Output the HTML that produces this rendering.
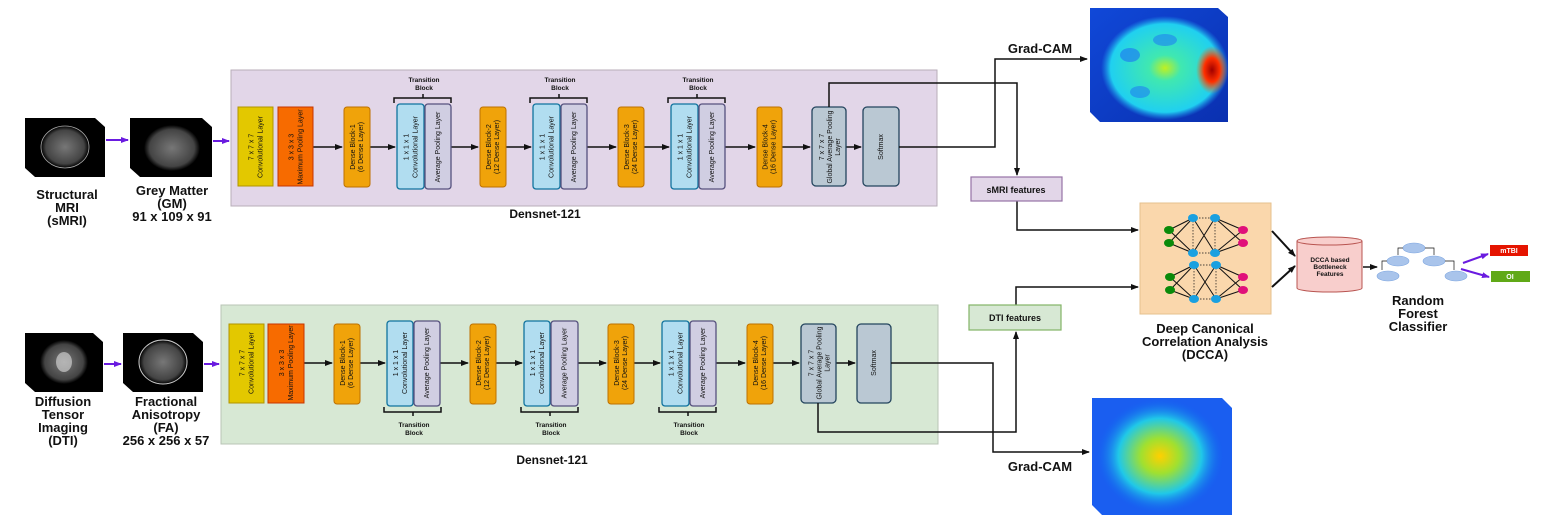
<!DOCTYPE html>
<html><head><meta charset="utf-8"><style>
html,body{margin:0;padding:0;background:#fff;}
svg{display:block;font-family:"Liberation Sans",sans-serif;}
.bt{font-size:7px;fill:#111;text-anchor:middle;}
.lb{font-size:13px;font-weight:bold;fill:#111;text-anchor:middle;}
.ln{fill:none;stroke:#111;stroke-width:1.5;}
</style></head><body>
<svg width="1542" height="520" viewBox="0 0 1542 520" xmlns="http://www.w3.org/2000/svg">
<defs>
<marker id="ar" markerWidth="8" markerHeight="8" refX="7" refY="4" orient="auto" markerUnits="userSpaceOnUse"><path d="M0,1 L8,4 L0,7 Z" fill="#111"/></marker>
<marker id="ap" markerWidth="8" markerHeight="8" refX="7" refY="4" orient="auto" markerUnits="userSpaceOnUse"><path d="M0,1 L8,4 L0,7 Z" fill="#6a1be0"/></marker>
<radialGradient id="gc1" cx="0.5" cy="0.5" r="0.5"><stop offset="0" stop-color="#c0f020"/><stop offset="0.25" stop-color="#40e8b0"/><stop offset="0.85" stop-color="#20d0f0"/><stop offset="1" stop-color="#20a0f0" stop-opacity="0"/></radialGradient>
<radialGradient id="hot"><stop offset="0" stop-color="#a00000"/><stop offset="0.5" stop-color="#ff3000"/><stop offset="1" stop-color="#ff6000" stop-opacity="0"/></radialGradient>
<radialGradient id="gc2" cx="0.5" cy="0.5" r="0.5"><stop offset="0" stop-color="#ffd000"/><stop offset="0.3" stop-color="#a0e030"/><stop offset="0.65" stop-color="#20c8e8"/><stop offset="1" stop-color="#1060f0" stop-opacity="0"/></radialGradient>
<radialGradient id="br"><stop offset="0" stop-color="#777"/><stop offset="0.8" stop-color="#444"/><stop offset="1" stop-color="#000"/></radialGradient>
<linearGradient id="bg1" x1="0" y1="0" x2="1" y2="1"><stop offset="0" stop-color="#1048d8"/><stop offset="1" stop-color="#0a30b0"/></linearGradient>
</defs>

<rect x="231" y="70" width="706" height="136" fill="#e2d6e8" stroke="#b8aeb9"/>
<rect x="221" y="305" width="717" height="139" fill="#d7e8d4" stroke="#b8c4b6"/>
<text class="lb" x="545" y="218" style="font-size:12px">Densnet-121</text>
<text class="lb" x="552" y="464" style="font-size:12px">Densnet-121</text>

<g><polygon points="25,118 95,118 105,127 105,177 35,177 25,168" fill="#000"/><ellipse cx="65" cy="147" rx="24" ry="21" fill="url(#br)" stroke="#aaa" stroke-width="0.8"/></g>
<g><polygon points="130,118 202,118 212,127 212,177 140,177 130,168" fill="#000"/><ellipse cx="172" cy="148" rx="28" ry="23" fill="url(#br)"/></g>
<line x1="106" y1="140" x2="128" y2="140" stroke="#6a1be0" stroke-width="2" marker-end="url(#ap)"/>
<line x1="213" y1="141" x2="229" y2="141" stroke="#6a1be0" stroke-width="2" marker-end="url(#ap)"/>
<text class="lb" x="67" y="199">Structural</text><text class="lb" x="67" y="212">MRI</text><text class="lb" x="67" y="225">(sMRI)</text>
<text class="lb" x="172" y="195">Grey Matter</text><text class="lb" x="172" y="208">(GM)</text><text class="lb" x="172" y="221">91 x 109 x 91</text>

<g><polygon points="25,333 93,333 103,342 103,392 35,392 25,383" fill="#000"/><ellipse cx="64" cy="362" rx="24" ry="22" fill="url(#br)"/><ellipse cx="64" cy="362" rx="8" ry="10" fill="#ddd" opacity="0.6"/></g>
<g><polygon points="123,333 193,333 203,342 203,392 133,392 123,383" fill="#000"/><ellipse cx="163" cy="362" rx="24" ry="22" fill="url(#br)" stroke="#ccc" stroke-width="1"/></g>
<line x1="104" y1="364" x2="121" y2="364" stroke="#6a1be0" stroke-width="2" marker-end="url(#ap)"/>
<line x1="204" y1="364" x2="219" y2="364" stroke="#6a1be0" stroke-width="2" marker-end="url(#ap)"/>
<text class="lb" x="63" y="406">Diffusion</text><text class="lb" x="63" y="419">Tensor</text><text class="lb" x="63" y="432">Imaging</text><text class="lb" x="63" y="445">(DTI)</text>
<text class="lb" x="166" y="406">Fractional</text><text class="lb" x="166" y="419">Anisotropy</text><text class="lb" x="166" y="432">(FA)</text><text class="lb" x="166" y="445">256 x 256 x 57</text>

<g>
<line class="ln" x1="313" y1="147" x2="342" y2="147" marker-end="url(#ar)" stroke-width="1"/>
<line class="ln" x1="370" y1="147" x2="395" y2="147" marker-end="url(#ar)" stroke-width="1"/>
<line class="ln" x1="451" y1="147" x2="478" y2="147" marker-end="url(#ar)" stroke-width="1"/>
<line class="ln" x1="506" y1="147" x2="531" y2="147" marker-end="url(#ar)" stroke-width="1"/>
<line class="ln" x1="587" y1="147" x2="616" y2="147" marker-end="url(#ar)" stroke-width="1"/>
<line class="ln" x1="644" y1="147" x2="669" y2="147" marker-end="url(#ar)" stroke-width="1"/>
<line class="ln" x1="725" y1="147" x2="755" y2="147" marker-end="url(#ar)" stroke-width="1"/>
<line class="ln" x1="782" y1="147" x2="810" y2="147" marker-end="url(#ar)" stroke-width="1"/>
<line class="ln" x1="846" y1="147" x2="861" y2="147" marker-end="url(#ar)" stroke-width="1"/>

<rect x="238" y="107" width="35" height="79" fill="#e3c800" stroke="#b09500"/>
<text class="bt" transform="translate(255.5,147) rotate(-90)"><tspan x="0" dy="-2">7 x 7 x 7</tspan><tspan x="0" dy="9">Convolutional Layer</tspan></text>
<rect x="278" y="107" width="35" height="79" fill="#f76b00" stroke="#c73500"/>
<text class="bt" transform="translate(295.5,147) rotate(-90)"><tspan x="0" dy="-2">3 x 3 x 3</tspan><tspan x="0" dy="9">Maximum Pooling Layer</tspan></text>
<rect x="344" y="107" width="26" height="80" rx="3" fill="#f0a30a" stroke="#bd7000"/>
<text class="bt" transform="translate(357,147) rotate(-90)"><tspan x="0" dy="-2">Dense Block-1</tspan><tspan x="0" dy="8">(6 Dense Layer)</tspan></text>
<rect x="397" y="104" width="27" height="85" rx="3" fill="#b1ddf0" stroke="#10739e" stroke-width="1.3"/>
<text class="bt" transform="translate(410.5,147) rotate(-90)"><tspan x="0" dy="-2">1 x 1 x 1</tspan><tspan x="0" dy="9">Convolutional Layer</tspan></text>
<rect x="425" y="104" width="26" height="85" rx="3" fill="#d0cee2" stroke="#56517e" stroke-width="1.3"/>
<text class="bt" transform="translate(438,147) rotate(-90)"><tspan x="0" dy="2">Average Pooling Layer</tspan></text>
<rect x="480" y="107" width="26" height="80" rx="3" fill="#f0a30a" stroke="#bd7000"/>
<text class="bt" transform="translate(493,147) rotate(-90)"><tspan x="0" dy="-2">Dense Block-2</tspan><tspan x="0" dy="8">(12 Dense Layer)</tspan></text>
<rect x="533" y="104" width="27" height="85" rx="3" fill="#b1ddf0" stroke="#10739e" stroke-width="1.3"/>
<text class="bt" transform="translate(546.5,147) rotate(-90)"><tspan x="0" dy="-2">1 x 1 x 1</tspan><tspan x="0" dy="9">Convolutional Layer</tspan></text>
<rect x="561" y="104" width="26" height="85" rx="3" fill="#d0cee2" stroke="#56517e" stroke-width="1.3"/>
<text class="bt" transform="translate(574,147) rotate(-90)"><tspan x="0" dy="2">Average Pooling Layer</tspan></text>
<rect x="618" y="107" width="26" height="80" rx="3" fill="#f0a30a" stroke="#bd7000"/>
<text class="bt" transform="translate(631,147) rotate(-90)"><tspan x="0" dy="-2">Dense Block-3</tspan><tspan x="0" dy="8">(24 Dense Layer)</tspan></text>
<rect x="671" y="104" width="27" height="85" rx="3" fill="#b1ddf0" stroke="#10739e" stroke-width="1.3"/>
<text class="bt" transform="translate(684.5,147) rotate(-90)"><tspan x="0" dy="-2">1 x 1 x 1</tspan><tspan x="0" dy="9">Convolutional Layer</tspan></text>
<rect x="699" y="104" width="26" height="85" rx="3" fill="#d0cee2" stroke="#56517e" stroke-width="1.3"/>
<text class="bt" transform="translate(712,147) rotate(-90)"><tspan x="0" dy="2">Average Pooling Layer</tspan></text>
<rect x="757" y="107" width="25" height="80" rx="3" fill="#f0a30a" stroke="#bd7000"/>
<text class="bt" transform="translate(769.5,147) rotate(-90)"><tspan x="0" dy="-2">Dense Block-4</tspan><tspan x="0" dy="8">(16 Dense Layer)</tspan></text>
<rect x="812" y="107" width="34" height="79" rx="4" fill="#bac8d3" stroke="#23445d" stroke-width="1.3"/>
<text class="bt" transform="translate(829,147) rotate(-90)"><tspan x="0" dy="-5">7 x 7 x 7</tspan><tspan x="0" dy="8">Global Average Pooling</tspan><tspan x="0" dy="8">Layer</tspan></text>
<rect x="863" y="107" width="36" height="79" rx="4" fill="#bac8d3" stroke="#23445d" stroke-width="1.3"/>
<text class="bt" transform="translate(881,147) rotate(-90)"><tspan x="0" dy="2">Softmax</tspan></text>
<path d="M394,103 v-5 h57 v5 M423,98 v-4" fill="none" stroke="#111" stroke-width="1.5"/>
<text class="bt" x="424" y="82" style="font-weight:bold;font-size:6.5px">Transition</text><text class="bt" x="424" y="90" style="font-weight:bold;font-size:6.5px">Block</text>
<path d="M530,103 v-5 h57 v5 M559,98 v-4" fill="none" stroke="#111" stroke-width="1.5"/>
<text class="bt" x="560" y="82" style="font-weight:bold;font-size:6.5px">Transition</text><text class="bt" x="560" y="90" style="font-weight:bold;font-size:6.5px">Block</text>
<path d="M668,103 v-5 h57 v5 M697,98 v-4" fill="none" stroke="#111" stroke-width="1.5"/>
<text class="bt" x="698" y="82" style="font-weight:bold;font-size:6.5px">Transition</text><text class="bt" x="698" y="90" style="font-weight:bold;font-size:6.5px">Block</text>
</g>

<g>
<line class="ln" x1="304" y1="363" x2="332" y2="363" marker-end="url(#ar)" stroke-width="1"/>
<line class="ln" x1="360" y1="363" x2="385" y2="363" marker-end="url(#ar)" stroke-width="1"/>
<line class="ln" x1="440" y1="363" x2="468" y2="363" marker-end="url(#ar)" stroke-width="1"/>
<line class="ln" x1="496" y1="363" x2="522" y2="363" marker-end="url(#ar)" stroke-width="1"/>
<line class="ln" x1="578" y1="363" x2="606" y2="363" marker-end="url(#ar)" stroke-width="1"/>
<line class="ln" x1="634" y1="363" x2="660" y2="363" marker-end="url(#ar)" stroke-width="1"/>
<line class="ln" x1="716" y1="363" x2="745" y2="363" marker-end="url(#ar)" stroke-width="1"/>
<line class="ln" x1="773" y1="363" x2="799" y2="363" marker-end="url(#ar)" stroke-width="1"/>
<line class="ln" x1="836" y1="363" x2="855" y2="363" marker-end="url(#ar)" stroke-width="1"/>

<rect x="229" y="324" width="35" height="79" fill="#e3c800" stroke="#b09500"/>
<text class="bt" transform="translate(246.5,363) rotate(-90)"><tspan x="0" dy="-2">7 x 7 x 7</tspan><tspan x="0" dy="9">Convolutional Layer</tspan></text>
<rect x="268" y="324" width="36" height="79" fill="#f76b00" stroke="#c73500"/>
<text class="bt" transform="translate(286,363) rotate(-90)"><tspan x="0" dy="-2">3 x 3 x 3</tspan><tspan x="0" dy="9">Maximum Pooling Layer</tspan></text>
<rect x="334" y="324" width="26" height="80" rx="3" fill="#f0a30a" stroke="#bd7000"/>
<text class="bt" transform="translate(347,363) rotate(-90)"><tspan x="0" dy="-2">Dense Block-1</tspan><tspan x="0" dy="8">(6 Dense Layer)</tspan></text>
<rect x="387" y="321" width="26" height="85" rx="3" fill="#b1ddf0" stroke="#10739e" stroke-width="1.3"/>
<text class="bt" transform="translate(400,363) rotate(-90)"><tspan x="0" dy="-2">1 x 1 x 1</tspan><tspan x="0" dy="9">Convolutional Layer</tspan></text>
<rect x="414" y="321" width="26" height="85" rx="3" fill="#d0cee2" stroke="#56517e" stroke-width="1.3"/>
<text class="bt" transform="translate(427,363) rotate(-90)"><tspan x="0" dy="2">Average Pooling Layer</tspan></text>
<rect x="470" y="324" width="26" height="80" rx="3" fill="#f0a30a" stroke="#bd7000"/>
<text class="bt" transform="translate(483,363) rotate(-90)"><tspan x="0" dy="-2">Dense Block-2</tspan><tspan x="0" dy="8">(12 Dense Layer)</tspan></text>
<rect x="524" y="321" width="26" height="85" rx="3" fill="#b1ddf0" stroke="#10739e" stroke-width="1.3"/>
<text class="bt" transform="translate(537,363) rotate(-90)"><tspan x="0" dy="-2">1 x 1 x 1</tspan><tspan x="0" dy="9">Convolutional Layer</tspan></text>
<rect x="551" y="321" width="27" height="85" rx="3" fill="#d0cee2" stroke="#56517e" stroke-width="1.3"/>
<text class="bt" transform="translate(564.5,363) rotate(-90)"><tspan x="0" dy="2">Average Pooling Layer</tspan></text>
<rect x="608" y="324" width="26" height="80" rx="3" fill="#f0a30a" stroke="#bd7000"/>
<text class="bt" transform="translate(621,363) rotate(-90)"><tspan x="0" dy="-2">Dense Block-3</tspan><tspan x="0" dy="8">(24 Dense Layer)</tspan></text>
<rect x="662" y="321" width="27" height="85" rx="3" fill="#b1ddf0" stroke="#10739e" stroke-width="1.3"/>
<text class="bt" transform="translate(675.5,363) rotate(-90)"><tspan x="0" dy="-2">1 x 1 x 1</tspan><tspan x="0" dy="9">Convolutional Layer</tspan></text>
<rect x="690" y="321" width="26" height="85" rx="3" fill="#d0cee2" stroke="#56517e" stroke-width="1.3"/>
<text class="bt" transform="translate(703,363) rotate(-90)"><tspan x="0" dy="2">Average Pooling Layer</tspan></text>
<rect x="747" y="324" width="26" height="80" rx="3" fill="#f0a30a" stroke="#bd7000"/>
<text class="bt" transform="translate(760,363) rotate(-90)"><tspan x="0" dy="-2">Dense Block-4</tspan><tspan x="0" dy="8">(16 Dense Layer)</tspan></text>
<rect x="801" y="324" width="35" height="79" rx="4" fill="#bac8d3" stroke="#23445d" stroke-width="1.3"/>
<text class="bt" transform="translate(818.5,363) rotate(-90)"><tspan x="0" dy="-5">7 x 7 x 7</tspan><tspan x="0" dy="8">Global Average Pooling</tspan><tspan x="0" dy="8">Layer</tspan></text>
<rect x="857" y="324" width="34" height="79" rx="4" fill="#bac8d3" stroke="#23445d" stroke-width="1.3"/>
<text class="bt" transform="translate(874,363) rotate(-90)"><tspan x="0" dy="2">Softmax</tspan></text>
<path d="M384,407 v5 h57 v-5 M413,412 v4" fill="none" stroke="#111" stroke-width="1.5"/>
<text class="bt" x="414" y="427" style="font-weight:bold;font-size:6.5px">Transition</text><text class="bt" x="414" y="435" style="font-weight:bold;font-size:6.5px">Block</text>
<path d="M521,407 v5 h57 v-5 M550,412 v4" fill="none" stroke="#111" stroke-width="1.5"/>
<text class="bt" x="551" y="427" style="font-weight:bold;font-size:6.5px">Transition</text><text class="bt" x="551" y="435" style="font-weight:bold;font-size:6.5px">Block</text>
<path d="M659,407 v5 h57 v-5 M688,412 v4" fill="none" stroke="#111" stroke-width="1.5"/>
<text class="bt" x="689" y="427" style="font-weight:bold;font-size:6.5px">Transition</text><text class="bt" x="689" y="435" style="font-weight:bold;font-size:6.5px">Block</text>
</g>

<path class="ln" d="M899,147 H995 V59 H1087" marker-end="url(#ar)"/>
<path class="ln" d="M829,107 V83 H1017 V175" marker-end="url(#ar)"/>
<path class="ln" d="M1017,201 V230 H1138" marker-end="url(#ar)"/>
<path class="ln" d="M818,403 V432 H1016 V332" marker-end="url(#ar)"/>
<path class="ln" d="M1016,305 V287 H1138" marker-end="url(#ar)"/>
<path class="ln" d="M891,363 H993 V452 H1089" marker-end="url(#ar)"/>
<text class="lb" x="1040" y="53">Grad-CAM</text>
<text class="lb" x="1040" y="471">Grad-CAM</text>

<rect x="971" y="177" width="91" height="24" fill="#e2d6e8" stroke="#9673a6" stroke-width="1.2"/>
<text class="bt" x="1016" y="193" style="font-size:9px;font-weight:bold">sMRI features</text>
<rect x="969" y="305" width="92" height="25" fill="#d7e8d4" stroke="#82b366" stroke-width="1.2"/>
<text class="bt" x="1015" y="321" style="font-size:9px;font-weight:bold">DTI features</text>

<g>
<polygon points="1090,8 1218,8 1228,17 1228,122 1100,122 1090,112" fill="url(#bg1)"/>
<ellipse cx="1165" cy="68" rx="64" ry="52" fill="url(#gc1)"/>
<ellipse cx="1130" cy="55" rx="10" ry="7" fill="#2080f0" opacity="0.7"/>
<ellipse cx="1165" cy="40" rx="12" ry="6" fill="#2080f0" opacity="0.6"/>
<ellipse cx="1140" cy="92" rx="10" ry="6" fill="#2080f0" opacity="0.6"/>
<ellipse cx="1212" cy="70" rx="16" ry="24" fill="url(#hot)"/>
</g>
<g>
<polygon points="1092,398 1222,398 1232,408 1232,515 1102,515 1092,505" fill="#1a5ef0"/>
<ellipse cx="1160" cy="456" rx="64" ry="58" fill="url(#gc2)"/>
</g>

<rect x="1140" y="203" width="131" height="111" fill="#fad7ac" stroke="#e6c08e"/>
<g stroke="#111" stroke-width="1">
<path d="M1169,230 L1193,218 M1169,230 L1193,253 M1169,243 L1193,218 M1169,243 L1193,253 M1193,218 L1215,253 M1193,253 L1215,218 M1215,218 L1243,230 M1215,218 L1243,243 M1215,253 L1243,230 M1215,253 L1243,243"/>
<path d="M1170,277 L1194,265 M1170,277 L1194,299 M1170,290 L1194,265 M1170,290 L1194,299 M1194,265 L1216,299 M1194,299 L1216,265 M1216,265 L1243,277 M1216,265 L1243,290 M1216,299 L1243,277 M1216,299 L1243,290"/>
</g>
<g stroke="#111" stroke-width="0.7" stroke-dasharray="1.5,1.5">
<path d="M1193,218 H1215 M1193,253 H1215 M1193,218 V253 M1215,218 V253 M1194,265 H1216 M1194,299 H1216 M1194,265 V299 M1216,265 V299"/>
</g>
<g fill="#1aa0e0"><ellipse cx="1193" cy="218" rx="5" ry="4"/><ellipse cx="1215" cy="218" rx="5" ry="4"/><ellipse cx="1193" cy="253" rx="5" ry="4"/><ellipse cx="1215" cy="253" rx="5" ry="4"/><ellipse cx="1194" cy="265" rx="5" ry="4"/><ellipse cx="1216" cy="265" rx="5" ry="4"/><ellipse cx="1194" cy="299" rx="5" ry="4"/><ellipse cx="1216" cy="299" rx="5" ry="4"/></g>
<g fill="#0a8a0a"><ellipse cx="1169" cy="230" rx="5" ry="4"/><ellipse cx="1169" cy="243" rx="5" ry="4"/><ellipse cx="1170" cy="277" rx="5" ry="4"/><ellipse cx="1170" cy="290" rx="5" ry="4"/></g>
<g fill="#e0107a"><ellipse cx="1243" cy="230" rx="5" ry="4"/><ellipse cx="1243" cy="243" rx="5" ry="4"/><ellipse cx="1243" cy="277" rx="5" ry="4"/><ellipse cx="1243" cy="290" rx="5" ry="4"/></g>
<text class="lb" x="1205" y="333">Deep Canonical</text><text class="lb" x="1205" y="346">Correlation Analysis</text><text class="lb" x="1205" y="359">(DCCA)</text>

<line x1="1272" y1="231" x2="1295" y2="256" stroke="#111" stroke-width="2" marker-end="url(#ar)"/>
<line x1="1272" y1="287" x2="1295" y2="266" stroke="#111" stroke-width="2" marker-end="url(#ar)"/>
<path d="M1297,241 V288 A32.5,4 0 0 0 1362,288 V241" fill="#f8cecc" stroke="#b85450"/>
<ellipse cx="1329.5" cy="241" rx="32.5" ry="4" fill="#f8cecc" stroke="#b85450"/>
<text class="bt" x="1330" y="262" style="font-size:6.5px;font-weight:bold">DCCA based</text>
<text class="bt" x="1330" y="269" style="font-size:6.5px;font-weight:bold">Bottleneck</text>
<text class="bt" x="1330" y="276" style="font-size:6.5px;font-weight:bold">Features</text>
<line x1="1363" y1="267" x2="1377" y2="267" stroke="#111" stroke-width="1.5" marker-end="url(#ar)"/>

<g fill="#a9c4eb" stroke="#7ea6e0" stroke-width="0.6">
<ellipse cx="1414" cy="248" rx="11" ry="5"/><ellipse cx="1398" cy="261" rx="11" ry="5"/><ellipse cx="1434" cy="261" rx="11" ry="5"/><ellipse cx="1388" cy="276" rx="11" ry="5"/><ellipse cx="1456" cy="276" rx="11" ry="5"/>
</g>
<path d="M1403,248 H1398 V255 M1425,248 H1434 V255 M1387,261 H1382 V270 M1445,261 H1454 V270" fill="none" stroke="#111" stroke-width="0.7"/>
<text class="lb" x="1418" y="305">Random</text><text class="lb" x="1418" y="318">Forest</text><text class="lb" x="1418" y="331">Classifier</text>
<line x1="1463" y1="263" x2="1488" y2="254" stroke="#6a1be0" stroke-width="2" marker-end="url(#ap)"/>
<line x1="1461" y1="269" x2="1489" y2="277" stroke="#6a1be0" stroke-width="2" marker-end="url(#ap)"/>
<rect x="1490" y="245" width="38" height="11" fill="#e51400"/>
<text class="bt" x="1509" y="253" style="fill:#fff;font-size:7px;font-weight:bold">mTBI</text>
<rect x="1491" y="271" width="39" height="11" fill="#60a917"/>
<text class="bt" x="1510" y="279" style="fill:#fff;font-size:7px;font-weight:bold">OI</text>
</svg>
</body></html>
